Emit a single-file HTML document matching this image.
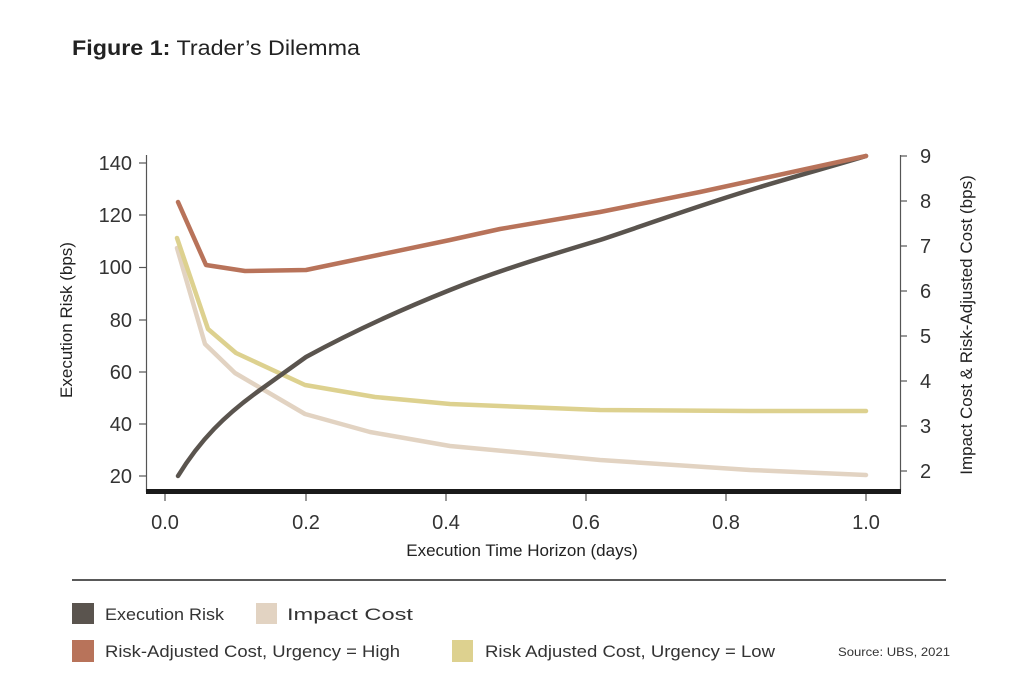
<!DOCTYPE html>
<html><head><meta charset="utf-8"><style>
html,body{margin:0;padding:0;background:#fff;}
svg{display:block;font-family:"Liberation Sans",sans-serif;}
</style></head><body>
<svg width="1024" height="698" viewBox="0 0 1024 698" xmlns="http://www.w3.org/2000/svg">
<rect width="1024" height="698" fill="#fff"/>
<text x="72" y="55" font-size="21" fill="#222" textLength="288" lengthAdjust="spacingAndGlyphs"><tspan font-weight="bold">Figure 1:</tspan> Trader’s Dilemma</text>

<line x1="146.5" y1="155" x2="146.5" y2="492" stroke="#555" stroke-width="1.2"/>
<line x1="900.5" y1="155" x2="900.5" y2="492" stroke="#555" stroke-width="1.2"/>
<rect x="146" y="489" width="755" height="5" fill="#1a1a1a"/>
<g stroke="#555" stroke-width="1.2">
<line x1="139" y1="163" x2="146" y2="163"/><line x1="139" y1="215" x2="146" y2="215"/><line x1="139" y1="267.5" x2="146" y2="267.5"/><line x1="139" y1="320" x2="146" y2="320"/><line x1="139" y1="372" x2="146" y2="372"/><line x1="139" y1="424" x2="146" y2="424"/><line x1="139" y1="476" x2="146" y2="476"/>
<line x1="900" y1="156" x2="907" y2="156"/><line x1="900" y1="201" x2="907" y2="201"/><line x1="900" y1="246" x2="907" y2="246"/><line x1="900" y1="291" x2="907" y2="291"/><line x1="900" y1="336" x2="907" y2="336"/><line x1="900" y1="381" x2="907" y2="381"/><line x1="900" y1="426" x2="907" y2="426"/><line x1="900" y1="471" x2="907" y2="471"/>
<line x1="165" y1="494" x2="165" y2="501"/><line x1="306" y1="494" x2="306" y2="501"/><line x1="446" y1="494" x2="446" y2="501"/><line x1="586" y1="494" x2="586" y2="501"/><line x1="726" y1="494" x2="726" y2="501"/><line x1="866" y1="494" x2="866" y2="501"/>
</g>
<g font-size="20" fill="#333" text-anchor="end">
<text x="132" y="170">140</text><text x="132" y="222">120</text><text x="132" y="274">100</text><text x="132" y="327">80</text><text x="132" y="379">60</text><text x="132" y="431">40</text><text x="132" y="483">20</text>
</g>
<g font-size="20" fill="#333" text-anchor="start">
<text x="920" y="163">9</text><text x="920" y="208">8</text><text x="920" y="253">7</text><text x="920" y="298">6</text><text x="920" y="343">5</text><text x="920" y="388">4</text><text x="920" y="433">3</text><text x="920" y="478">2</text>
</g>
<g font-size="20" fill="#333" text-anchor="middle">
<text x="165" y="529">0.0</text><text x="306" y="529">0.2</text><text x="446" y="529">0.4</text><text x="586" y="529">0.6</text><text x="726" y="529">0.8</text><text x="866" y="529">1.0</text>
</g>
<text x="522" y="556" font-size="17" fill="#222" text-anchor="middle">Execution Time Horizon (days)</text>
<text transform="translate(72,320) rotate(-90)" font-size="17" fill="#222" text-anchor="middle">Execution Risk (bps)</text>
<text transform="translate(972,325) rotate(-90)" font-size="17" fill="#222" text-anchor="middle">Impact Cost &amp; Risk-Adjusted Cost (bps)</text>

<g fill="none" stroke-width="4.5" stroke-linecap="round" stroke-linejoin="round">
<path stroke="#e2d3c2" d="M177,248 L205,344 L235,373 L305,414 L370,432 L450,446 L600,460 L750,470 L866,475"/>
<path stroke="#ddd18f" d="M177,238 L208,329 L236,353 L305,385 L375,397 L450,404 L600,410 L750,411 L866,411"/>
<path stroke="#5a544e" d="M178,476 C200,440 225,415 260,390 L306,357 C350,333 400,310 450,290 C500,270 550,255 600,240 C660,220 700,205 760,187 C800,175 840,164 866,156"/>
<path stroke="#b8735a" d="M178,202 L206,265 L245,271 L306,270 L450,240 L500,229 L600,212 L700,192 L866,156"/>
</g>

<line x1="72" y1="580" x2="946" y2="580" stroke="#222" stroke-width="1.5"/>
<rect x="72" y="603" width="22" height="21" fill="#5a544e"/>
<rect x="256" y="603" width="21" height="21" fill="#e2d3c2"/>
<rect x="72" y="640" width="22" height="22" fill="#b8735a"/>
<rect x="452" y="640" width="21" height="22" fill="#ddd18f"/>
<g font-size="17" fill="#333">
<text x="105" y="620" textLength="119" lengthAdjust="spacingAndGlyphs">Execution Risk</text>
<text x="287" y="620" textLength="126" lengthAdjust="spacingAndGlyphs">Impact Cost</text>
<text x="105" y="657" textLength="295" lengthAdjust="spacingAndGlyphs">Risk-Adjusted Cost, Urgency = High</text>
<text x="485" y="657" textLength="290" lengthAdjust="spacingAndGlyphs">Risk Adjusted Cost, Urgency = Low</text>
</g>
<text x="838" y="656" font-size="12" fill="#333" textLength="112" lengthAdjust="spacingAndGlyphs">Source: UBS, 2021</text>
</svg>
</body></html>
